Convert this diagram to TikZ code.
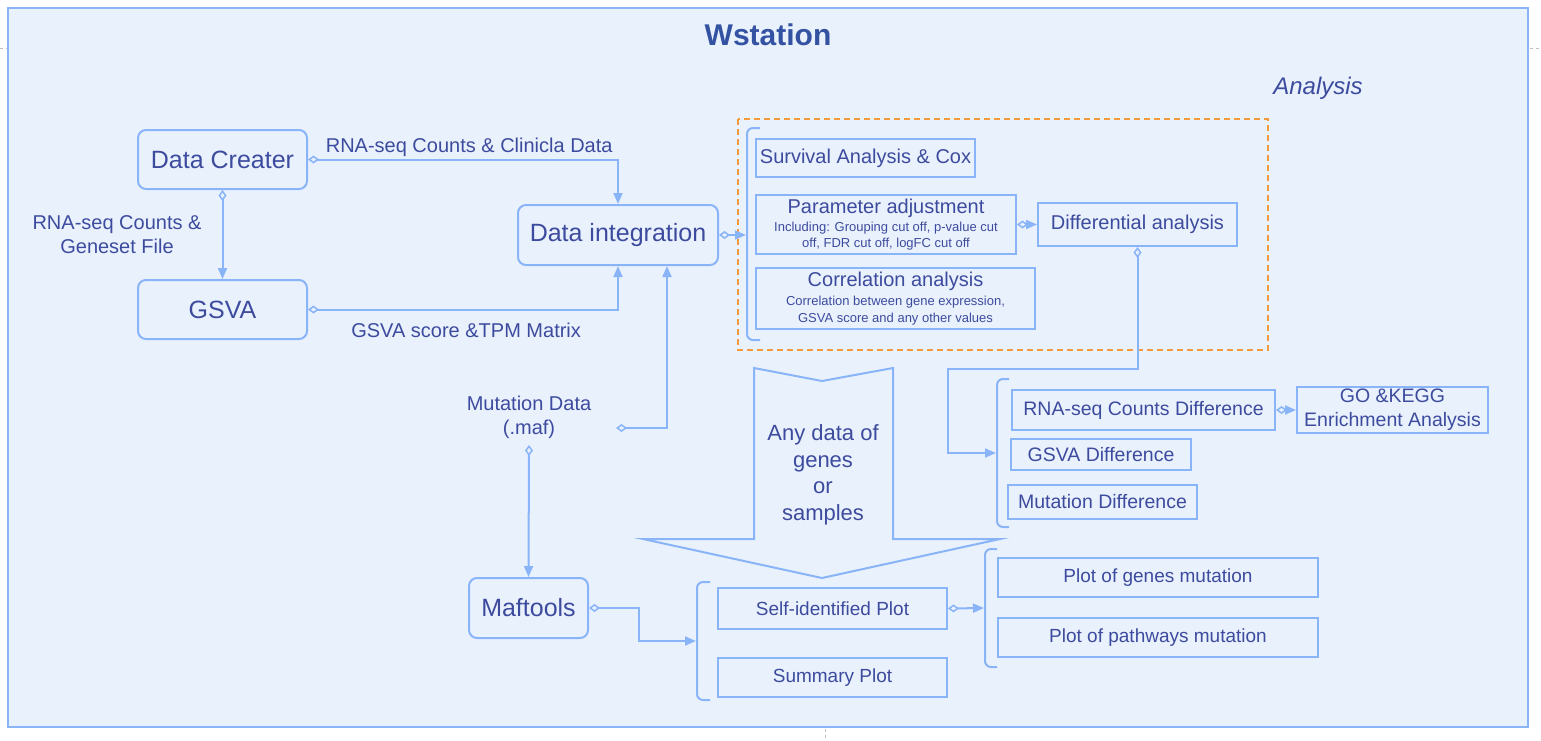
\documentclass[tikz,border=0pt]{standalone}
\usepackage{fontspec}
\setmainfont{Liberation Sans}
\usetikzlibrary{arrows.meta,positioning}
\definecolor{lineblue}{RGB}{138,180,248}
\definecolor{paleblue}{RGB}{233,241,253}
\definecolor{inkblue}{RGB}{61,75,158}
\definecolor{headblue}{RGB}{52,82,162}
\definecolor{groupline}{RGB}{245,154,60}
\tikzset{
  roundbox/.style = {draw=lineblue, line width=2pt, rounded corners=8pt,
    fill=paleblue, text=inkblue, inner sep=0pt, align=center,
    font=\fontsize{25}{30}\selectfont},% main steps
  flatbox/.style = {draw=lineblue, line width=2pt, fill=paleblue,
    text=inkblue, inner sep=0pt, align=center,
    font=\fontsize{19.5}{24}\selectfont},% analysis items
  lbl/.style = {text=inkblue, align=center, inner sep=0pt,
    font=\fontsize{20}{24}\selectfont},% connector texts
  link/.style = {draw=lineblue, line width=2pt,
    {Diamond[open,length=11pt,width=8pt,line width=1.5pt]}-{Triangle[length=11pt,width=9pt]}},
  bracket/.style = {draw=lineblue, line width=2pt, rounded corners=6pt}
}
\begin{document}
\begin{tikzpicture}[x=1pt,y=-1pt]
  \useasboundingbox (0,0) rectangle (1541,740);
  % frame
  \draw[fill=paleblue, draw=lineblue, line width=2pt] (8,8) rectangle (1528,727);
  \draw[black!25, dashed, line width=0.8pt] (0,48) -- (7,48);
  \draw[black!25, dashed, line width=0.8pt] (1530,48) -- (1541,48);
  \draw[black!25, dashed, line width=0.8pt] (825,729) -- (825,740);
  \node[text=headblue, font=\fontsize{30}{36}\bfseries] (title) at (768,35) {Wstation};
  \node[text=inkblue, font=\fontsize{24}{28}\itshape] (ana) at (1318,88) {Analysis};

  % analysis group
  \draw[groupline, line width=2pt, dash pattern=on 6pt off 4pt] (738,119) rectangle (1268,350);

  % big down arrow
  \draw[draw=lineblue, line width=2pt, fill=paleblue] (754,368) -- (822,381) -- (893,368)
    -- (893,539) -- (1000,539) -- (822,578) -- (643,539) -- (754,539) -- cycle;
  \node[lbl, font=\fontsize{22}{26.5}\selectfont] (anydata) at (823,475)
    {Any data of\\genes\\or\\samples};

  % steps
  \node[roundbox, minimum width=169pt, minimum height=59pt] (dc) at (222.5,159.5) {Data Creater};
  \node[roundbox, minimum width=169pt, minimum height=59pt] (gs) at (222.5,309.5) {GSVA};
  \node[roundbox, minimum width=200pt, minimum height=60pt] (di) at (618,235) {Data integration};
  \node[roundbox, minimum width=119pt, minimum height=60pt] (mf) at (528.5,608) {Maftools};
  \node[lbl] (mut) at (529,417) {Mutation Data\\(.maf)};
  \coordinate (mutR) at (616,428);
  \coordinate (mutB) at (529,445);

  % analysis boxes
  \node[flatbox, font=\fontsize{20}{24}\selectfont, minimum width=219pt, minimum height=38pt]
    (sv) at (865.5,158) {Survival Analysis \& Cox};
  \node[flatbox, font=\fontsize{13}{16}\selectfont, minimum width=260pt, minimum height=59pt]
    (pa) at (886,224.5) {{\fontsize{20}{24}\selectfont Parameter adjustment}\\[2pt]
    Including: Grouping cut off, p-value cut\\off, FDR cut off, logFC cut off};
  \node[flatbox, font=\fontsize{13}{17}\selectfont, minimum width=279pt, minimum height=61pt]
    (co) at (895.5,298.5) {{\fontsize{20}{24}\selectfont Correlation analysis}\\[2pt]
    Correlation between gene expression,\\GSVA score and any other values};
  \node[flatbox, font=\fontsize{20}{24}\selectfont, minimum width=199pt, minimum height=43pt]
    (da) at (1137.5,224.5) {Differential analysis};

  % differences
  \node[flatbox, minimum width=263pt, minimum height=40pt] (rc) at (1143.5,410) {RNA-seq Counts Difference};
  \node[flatbox, minimum width=191pt, minimum height=46pt] (go) at (1392.5,410) {GO \&KEGG\\Enrichment Analysis};
  \node[flatbox, minimum width=180pt, minimum height=31pt] (gd) at (1101,454.5) {GSVA Difference};
  \node[flatbox, minimum width=189pt, minimum height=34pt] (md) at (1102.5,502) {Mutation Difference};

  % plots
  \node[flatbox, font=\fontsize{19}{23}\selectfont, minimum width=229pt, minimum height=41pt]
    (sp) at (832.5,608.5) {Self-identified Plot};
  \node[flatbox, font=\fontsize{19}{23}\selectfont, minimum width=229pt, minimum height=39pt]
    (sm) at (832.5,677.5) {Summary Plot};
  \node[flatbox, font=\fontsize{19}{23}\selectfont, minimum width=320pt, minimum height=39pt]
    (pg) at (1158,577.5) {Plot of genes mutation};
  \node[flatbox, font=\fontsize{19}{23}\selectfont, minimum width=320pt, minimum height=39pt]
    (pp) at (1158,637.5) {Plot of pathways mutation};

  % brackets
  \draw[bracket] (760,128) -- (747,128) -- (747,340) -- (760,340);
  \coordinate (b1) at (746,235);
  \draw[bracket] (1009,379) -- (997,379) -- (997,527) -- (1009,527);
  \coordinate (b2) at (996,453);
  \draw[bracket] (710,582) -- (697,582) -- (697,700) -- (710,700);
  \coordinate (b3) at (696,641);
  \draw[bracket] (997,549) -- (985,549) -- (985,667) -- (997,667);
  \coordinate (b4) at (984,608);

  % connectors
  \draw[link] (dc.east) -| (di.north)
    node[lbl, pos=0.26, above=2pt] {RNA-seq Counts \& Clinicla Data};
  \draw[link] (dc.south) -- (gs.north)
    node[lbl, midway, left=20pt] {RNA-seq Counts \&\\Geneset File};
  \draw[link] (gs.east) -| (di.south)
    node[lbl, pos=0.255, below=12pt] {GSVA score \&TPM Matrix};
  \draw[link] (mutR) -| ([xshift=49pt]di.south);
  \draw[link] (mutB) -- (mf.north);
  \draw[link] (di.east) -- (b1);
  \draw[link] (pa.east) -- (da.west);
  \draw[link] (da.south) |- ++(-190,122) |- (b2);
  \draw[link] (rc.east) -- (go.west);
  \draw[link] (mf.east) -- ++(50,0) |- (b3);
  \draw[link] (sp.east) -- (b4);
\end{tikzpicture}
\end{document}
